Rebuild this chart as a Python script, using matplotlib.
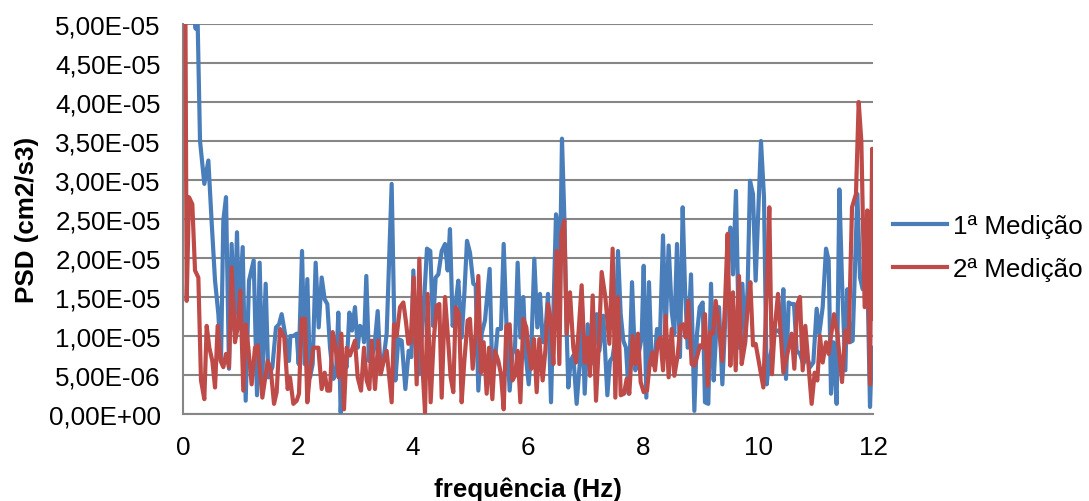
import matplotlib
matplotlib.use('Agg')
import matplotlib.pyplot as plt
from matplotlib.ticker import FuncFormatter, MultipleLocator

plt.rcParams['font.family'] = ['Liberation Sans', 'DejaVu Sans']

# 1a medicao: frequencia (Hz) e PSD (x1e-6 cm2/s3)
freq_1 = [0.0, 0.05, 0.10, 0.15, 0.19, 0.22, 0.25, 0.296, 0.371, 0.441, 0.499, 0.557, 0.615, 0.661,
          0.701, 0.748, 0.8, 0.846, 0.893, 0.939, 0.974, 1.038, 1.09, 1.148, 1.229, 1.287, 1.333,
          1.38, 1.438, 1.484, 1.554, 1.617, 1.67, 1.716, 1.786, 1.843, 1.867,
          1.919, 1.977, 2.012, 2.070, 2.116, 2.162, 2.209, 2.255, 2.307, 2.360, 2.412, 2.464, 2.510,
          2.557, 2.615, 2.661, 2.701, 2.742, 2.788, 2.846, 2.893, 2.939, 2.991, 3.038, 3.078, 3.125,
          3.148, 3.188, 3.235, 3.281, 3.328, 3.386, 3.438, 3.484, 3.542, 3.629, 3.693, 3.745, 3.803,
          3.867, 3.925, 3.971,
          4.006, 4.052, 4.104, 4.180, 4.243, 4.301, 4.348, 4.394, 4.441, 4.499, 4.557, 4.603, 4.643,
          4.690, 4.742, 4.788, 4.846, 4.893, 4.939, 4.991, 5.049, 5.090, 5.136, 5.194, 5.252, 5.333,
          5.380, 5.426, 5.472, 5.530, 5.577, 5.629, 5.681, 5.728, 5.774, 5.820, 5.867, 5.919, 5.959,
          6.012, 6.058, 6.110, 6.162, 6.209, 6.255, 6.301, 6.348, 6.400, 6.441, 6.487, 6.528, 6.557,
          6.591, 6.632, 6.672, 6.701, 6.742, 6.788, 6.846, 6.904, 6.939, 6.986, 7.038, 7.090, 7.136,
          7.194, 7.241, 7.310, 7.380, 7.426, 7.472, 7.519, 7.565, 7.612, 7.658, 7.704, 7.751, 7.809,
          7.867, 7.919,
          7.977, 8.012, 8.058, 8.104, 8.151, 8.197, 8.243, 8.296, 8.348, 8.394, 8.446, 8.499, 8.545,
          8.591, 8.643, 8.690, 8.730, 8.777, 8.835, 8.893, 8.939, 8.986, 9.038, 9.078, 9.136, 9.183,
          9.229, 9.275, 9.322, 9.380, 9.426, 9.472, 9.519, 9.565, 9.617, 9.670, 9.728, 9.774, 9.820,
          9.861, 9.913, 9.959,
          10.052, 10.104, 10.151, 10.191, 10.243, 10.296, 10.348, 10.394, 10.441, 10.487, 10.533,
          10.580, 10.626, 10.672, 10.730, 10.788, 10.846, 10.904, 10.962, 11.020, 11.066, 11.125,
          11.183, 11.229, 11.270, 11.310, 11.368, 11.415, 11.461, 11.519, 11.554, 11.600, 11.646,
          11.728, 11.774, 11.820, 11.867, 11.913, 11.948, 11.983]
psd_1 = [300, 180, 110, 65, 52, 49.4, 52, 35.0, 29.5, 32.5, 24.5, 17.1, 12.8, 6.8,
         24.8, 27.8, 5.8, 21.8, 10.7, 23.3, 12.8, 21.4, 1.7, 17.1, 19.7, 2.4, 19.4,
         4.7, 16.7, 4.7, 6.0, 11.1, 11.5, 12.8, 9.8, 6.8, 10.0,
         10.0, 10.3, 6.4, 20.9, 6.4, 17.3, 4.7, 6.4, 19.4, 11.1, 17.5, 14.7, 14.1,
         8.5, 4.5, 5.1, 13.0, 0.2, 7.3, 6.0, 13.0, 10.7, 13.7, 8.5, 11.3, 10.9,
         9.2, 17.7, 6.8, 7.3, 8.5, 13.2, 5.3, 6.8, 10.3, 29.5, 4.3, 9.6, 9.4,
         3.2, 8.1, 7.3,
         18.4, 8.5, 5.1, 12.8, 21.2, 20.9, 11.3, 17.5, 17.9, 20.9, 21.8, 18.4, 23.7,
         11.3, 14.1, 17.1, 9.8, 15.4, 22.2, 20.7, 16.7, 16.5, 3.0, 10.3, 12.0, 18.6,
         4.7, 6.8, 10.9, 10.9, 21.8, 10.7, 3.0, 7.7, 8.5, 19.4, 9.8, 15.0, 7.7,
         3.8, 8.5, 19.9, 11.1, 15.4, 9.2, 10.3, 15.4, 1.5, 12.8, 25.6, 23.9, 18.8,
         35.3, 25.2, 10.7, 3.4, 6.8, 7.5, 1.3, 6.8, 13.7, 2.6, 11.5, 6.4, 6.8,
         12.8, 8.1, 12.6, 2.4, 6.8, 7.3, 9.8, 20.9, 12.8, 9.4, 8.5, 2.6, 16.9,
         5.6, 7.5,
         9.8, 19.0, 2.1, 16.9, 6.4, 6.2, 10.9, 10.0, 22.9, 10.5, 21.6, 13.2, 10.3,
         21.8, 7.3, 26.5, 16.2, 8.5, 17.9, 0.4, 10.3, 13.7, 14.3, 1.5, 1.3, 16.7,
         4.3, 10.9, 13.7, 3.8, 11.3, 19.7, 23.9, 17.9, 28.6, 8.5, 16.7, 9.0, 16.2,
         29.9, 28.2, 17.1,
         35.0, 27.8, 3.8, 6.6, 8.5, 10.7, 10.7, 10.3, 16.0, 4.5, 14.3,
         14.1, 14.1, 8.1, 7.7, 6.4, 7.5, 6.0, 6.6, 13.5, 10.3, 13.7,
         21.2, 19.7, 2.6, 9.2, 1.3, 28.8, 17.1, 5.6, 16.0, 9.2, 9.4,
         28.2, 17.5, 16.0, 17.5, 13.7, 0.9, 8.5]

# 2a medicao
freq_2 = [0.0, 0.04, 0.064, 0.104, 0.162, 0.209, 0.267, 0.313, 0.371, 0.412, 0.458, 0.51, 0.557,
          0.603, 0.655, 0.701, 0.748, 0.8, 0.846, 0.904, 0.951, 0.997, 1.049, 1.09, 1.136, 1.194,
          1.252, 1.299, 1.38, 1.472, 1.525, 1.583, 1.629, 1.687, 1.762, 1.820, 1.861,
          1.919, 1.977, 2.017, 2.064, 2.122, 2.162, 2.209, 2.267, 2.354, 2.412, 2.464, 2.510, 2.557,
          2.603, 2.655, 2.707, 2.754, 2.800, 2.846, 2.904, 2.991, 3.038, 3.096, 3.148, 3.194, 3.241,
          3.281, 3.339, 3.397, 3.438, 3.484, 3.542, 3.629, 3.670, 3.716, 3.774, 3.832, 3.878, 3.919,
          3.959,
          4.012, 4.064, 4.110, 4.162, 4.209, 4.255, 4.307, 4.359, 4.412, 4.458, 4.499, 4.557, 4.603,
          4.655, 4.701, 4.742, 4.800, 4.846, 4.893, 4.951, 4.991, 5.038, 5.090, 5.136, 5.183, 5.229,
          5.281, 5.322, 5.380, 5.426, 5.484, 5.530, 5.577, 5.623, 5.681, 5.728, 5.774, 5.820, 5.867,
          5.919, 5.971,
          6.012, 6.058, 6.104, 6.151, 6.197, 6.255, 6.301, 6.348, 6.400, 6.441, 6.499, 6.545, 6.580,
          6.632, 6.672, 6.730, 6.788, 6.835, 6.881, 6.933, 6.986, 7.032, 7.078, 7.125, 7.183, 7.229,
          7.281, 7.345, 7.415, 7.472, 7.519, 7.565, 7.612, 7.670, 7.716, 7.762, 7.820, 7.867, 7.913,
          7.959,
          8.012, 8.070, 8.116, 8.162, 8.209, 8.255, 8.301, 8.348, 8.394, 8.446, 8.499, 8.545, 8.603,
          8.649, 8.701, 8.742, 8.788, 8.846, 8.893, 8.939, 8.991, 9.038, 9.078, 9.125, 9.171, 9.217,
          9.264, 9.310, 9.380, 9.426, 9.472, 9.519, 9.565, 9.612, 9.670, 9.716, 9.774, 9.820, 9.867,
          9.913, 9.959,
          10.012, 10.093, 10.151, 10.197, 10.243, 10.290, 10.348, 10.394, 10.441, 10.499, 10.586,
          10.632, 10.684, 10.730, 10.777, 10.823, 10.881, 10.933, 10.986, 11.032, 11.078, 11.125,
          11.183, 11.229, 11.275, 11.322, 11.380, 11.461, 11.519, 11.577, 11.635, 11.704, 11.751,
          11.797, 11.855, 11.901, 11.948, 11.985, 12.0]
psd_2 = [90, 55, 14.5, 27.8, 26.9, 18.4, 17.5, 4.3, 1.9, 11.3, 8.5, 6.8, 3.4,
         11.3, 6.8, 6.0, 7.7, 6.0, 18.8, 9.2, 11.1, 15.8, 3.0, 11.5, 8.5, 3.8,
         8.5, 8.8, 2.1, 6.8, 5.8, 1.3, 2.8, 10.9, 9.8, 3.2, 4.7,
         1.3, 1.7, 2.6, 12.2, 12.2, 1.5, 5.3, 8.5, 8.5, 3.2, 5.3, 3.0, 3.0,
         10.5, 8.5, 4.7, 10.3, 0.6, 8.5, 7.5, 9.4, 4.7, 3.0, 8.5, 4.3, 3.2,
         9.4, 3.2, 9.4, 5.1, 6.6, 8.1, 1.5, 11.5, 10.0, 13.7, 14.3, 11.8, 9.0,
         9.2,
         17.5, 3.8, 19.9, 6.4, 0.2, 15.4, 1.5, 9.4, 13.9, 14.1, 2.1, 15.0, 10.3,
         4.7, 2.8, 13.7, 12.8, 1.5, 6.8, 12.0, 12.2, 5.8, 10.3, 17.7, 5.3, 9.2,
         2.6, 8.5, 1.9, 8.1, 6.8, 5.1, 0.6, 11.3, 11.5, 4.3, 4.9, 8.1, 1.5,
         12.2, 11.1,
         8.1, 5.8, 9.6, 2.8, 9.6, 4.3, 8.1, 14.1, 12.0, 6.4, 20.9, 6.4, 23.1,
         24.8, 10.3, 15.6, 8.5, 6.6, 10.7, 16.5, 6.6, 9.8, 4.9, 15.2, 1.7, 8.5,
         18.2, 15.0, 9.0, 21.2, 2.1, 15.0, 2.4, 2.6, 4.5, 2.6, 10.0, 6.4, 10.3,
         4.1,
         2.8, 3.0, 6.4, 7.9, 5.6, 9.2, 9.8, 5.6, 12.6, 4.7, 10.9, 4.9, 7.5,
         11.3, 11.5, 9.8, 14.5, 6.4, 6.2, 7.3, 8.8, 8.5, 12.8, 3.6, 10.5, 10.3,
         14.5, 12.0, 6.8, 14.1, 23.1, 6.2, 15.6, 5.6, 17.7, 6.4, 9.0, 13.7, 16.9,
         8.8, 9.0,
         6.8, 3.4, 15.8, 26.5, 5.1, 10.9, 15.4, 10.3, 5.3, 7.3, 10.3,
         5.8, 14.1, 15.0, 5.6, 11.3, 6.0, 1.3, 5.3, 4.3, 10.0, 6.6,
         9.2, 7.7, 10.3, 12.8, 10.3, 4.1, 10.7, 9.2, 26.5, 28.2, 40.0,
         35.0, 13.7, 26.1, 3.8, 34.0, 12.2]

series_names = ['1ª Medição', '2ª Medição']
series_colors = ['#4A7EBB', '#BE4B48']

fig = plt.figure(figsize=(10.89, 5.02), dpi=100)
ax = fig.add_axes([183 / 1089, 87 / 502, 690 / 1089, 390 / 502])

ax.plot(freq_1, [v * 1e-6 for v in psd_1], color=series_colors[0], lw=3.0,
        solid_joinstyle='round', label=series_names[0], zorder=3)
ax.plot(freq_2, [v * 1e-6 for v in psd_2], color=series_colors[1], lw=3.0,
        solid_joinstyle='round', label=series_names[1], zorder=4)

ax.set_xlim(0, 12)
ax.set_ylim(0, 5e-5)
ax.xaxis.set_major_locator(MultipleLocator(2))
ax.yaxis.set_major_locator(MultipleLocator(5e-6))
ax.yaxis.set_major_formatter(FuncFormatter(lambda v, p: ('%.2E' % v).replace('.', ',')))

ax.grid(axis='y', color='#868686', lw=1.5)
ax.set_axisbelow(True)
for s in ['top', 'right']:
    ax.spines[s].set_visible(False)
for s in ['left', 'bottom']:
    ax.spines[s].set_color('#868686')
    ax.spines[s].set_linewidth(1.5)
ax.tick_params(length=0, labelsize=18.7)
ax.tick_params(axis='x', pad=15)
ax.tick_params(axis='y', pad=16)

ax.set_xlabel('frequência (Hz)', fontsize=18.7, fontweight='bold', labelpad=13)
ax.set_ylabel('PSD (cm2/s3)', fontsize=18.7, fontweight='bold', labelpad=7)

leg = ax.legend(loc='center left', bbox_to_anchor=(0.995, 0.427), frameon=False,
                fontsize=18.7, handlelength=2.1, handletextpad=0.2, labelspacing=0.75)

fig.savefig('out.png', dpi=100)
